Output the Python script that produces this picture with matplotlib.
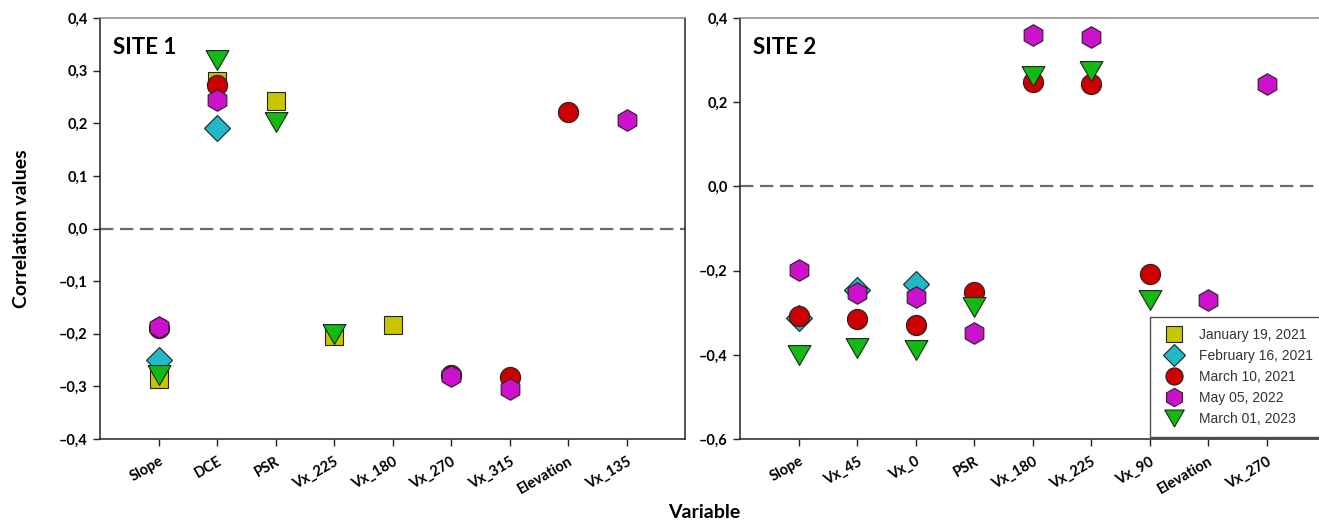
import matplotlib
matplotlib.use('Agg')
import matplotlib.pyplot as plt
from matplotlib.lines import Line2D
import numpy as np

nan = np.nan

# categories of each site
site1_vars = ['Slope', 'DCE', 'PSR', 'Vx_225', 'Vx_180', 'Vx_270', 'Vx_315', 'Elevation', 'Vx_135']
site2_vars = ['Slope', 'Vx_45', 'Vx_0', 'PSR', 'Vx_180', 'Vx_225', 'Vx_90', 'Elevation', 'Vx_270']

dates = ['January 19, 2021', 'February 16, 2021', 'March 10, 2021', 'May 05, 2022', 'March 01, 2023']

# site 1 correlation values (one list per date)
s1_jan21 = [-0.286, 0.280, 0.242, -0.205, -0.184, nan, nan, nan, nan]
s1_feb21 = [-0.249, 0.191, nan, nan, nan, nan, nan, nan, nan]
s1_mar21 = [-0.189, 0.272, nan, nan, nan, -0.279, -0.282, 0.221, nan]
s1_may22 = [-0.188, 0.245, nan, nan, nan, -0.280, -0.305, nan, 0.207]
s1_mar23 = [-0.279, 0.321, 0.202, -0.200, nan, nan, nan, nan, nan]

# site 2 correlation values
s2_jan21 = [nan, nan, nan, nan, nan, nan, nan, nan, nan]
s2_feb21 = [-0.312, -0.247, -0.232, nan, nan, nan, nan, nan, nan]
s2_mar21 = [-0.307, -0.315, -0.329, -0.251, 0.249, 0.244, -0.209, nan, nan]
s2_may22 = [-0.198, -0.253, -0.262, -0.348, 0.360, 0.355, nan, -0.269, 0.244]
s2_mar23 = [-0.400, -0.383, -0.388, -0.287, 0.263, 0.273, -0.271, nan, nan]

site1 = [s1_jan21, s1_feb21, s1_mar21, s1_may22, s1_mar23]
site2 = [s2_jan21, s2_feb21, s2_mar21, s2_may22, s2_mar23]

# down triangle centred on its box
tri = [(-1, 0.866), (1, 0.866), (0, -0.866), (-1, 0.866)]
markers = ['s', 'D', 'o', 'h', tri]
sizes = [13, 13, 14.5, 15.5, 16.5]
colors = ['#c8c400', '#22b8c8', '#cc0000', '#cc11cc', '#11bb11']

font = 'Lato'
W, H = 1319, 521
fig = plt.figure(figsize=(W / 100, H / 100), dpi=100)
ax1 = fig.add_axes([100 / W, 1 - 439 / H, 585 / W, 421 / H])
ax2 = fig.add_axes([740 / W, 1 - 439 / H, 585 / W, 421 / H])


def fmt(v):
    s = '%.1f' % v
    return s.replace('.', ',').replace('-', '\u2013')


def draw_site(ax, names, data, yticks, title):
    x = np.arange(1, len(names) + 1)
    for vals, m, ms, c in zip(data, markers, sizes, colors):
        ax.plot(x, vals, linestyle='none', marker=m, markersize=ms,
                markerfacecolor=c, markeredgecolor='#222222', markeredgewidth=0.8)
    ax.axhline(0, color='#6a6a6a', lw=1.6, linestyle=(0, (6, 3)), zorder=0)
    ax.set_xlim(0, 10)
    ax.set_ylim(yticks[0], yticks[-1])
    ax.set_xticks(x)
    ax.set_xticklabels(names, rotation=30, ha='right', rotation_mode='anchor',
                       fontsize=10.5, fontweight='bold', family=font)
    ax.set_yticks(yticks)
    ax.set_yticklabels([fmt(v) for v in yticks], fontsize=10.5, fontweight='bold', family=font)
    ax.tick_params(axis='both', direction='out', length=5, width=1, color='#222222')
    ax.tick_params(axis='x', pad=6)
    ax.tick_params(axis='y', pad=4)
    for side in ['left', 'bottom', 'right']:
        ax.spines[side].set_color('#222222')
        ax.spines[side].set_linewidth(1.1)
    ax.spines['top'].set_color('#888888')
    ax.spines['top'].set_linewidth(1.1)
    ax.text(0.022, 0.93, title, transform=ax.transAxes, fontsize=16,
            fontweight='bold', family=font, va='center', ha='left')


draw_site(ax1, site1_vars, site1, [-0.4, -0.3, -0.2, -0.1, 0.0, 0.1, 0.2, 0.3, 0.4], 'SITE 1')
draw_site(ax2, site2_vars, site2, [-0.6, -0.4, -0.2, 0.0, 0.2, 0.4], 'SITE 2')

fig.text(22 / W, 1 - 229 / H, 'Correlation values', rotation=90, ha='center', va='center',
         fontsize=14, fontweight='bold', family=font)
fig.text(704 / W, 1 - 512 / H, 'Variable', ha='center', va='center',
         fontsize=14, fontweight='bold', family=font)

handles = []
for m, ms, c, lab in zip(markers, sizes, colors, dates):
    handles.append(Line2D([], [], linestyle='none', marker=m, markersize=ms * 0.85,
                          markerfacecolor=c, markeredgecolor='#222222',
                          markeredgewidth=0.8, label=lab))
leg = ax2.legend(handles=handles, loc='upper left', bbox_to_anchor=(1150 / W, 1 - 317 / H),
                 bbox_transform=fig.transFigure, frameon=True, fancybox=False,
                 prop={'family': 'Liberation Sans', 'size': 10},
                 handlelength=1.9, handletextpad=0.85, borderpad=0.8, labelspacing=0.5,
                 borderaxespad=0)
leg.get_frame().set_edgecolor('#222222')
leg.get_frame().set_linewidth(1.0)
for t in leg.get_texts():
    t.set_color('#333333')

fig.savefig('out.png', dpi=100)
